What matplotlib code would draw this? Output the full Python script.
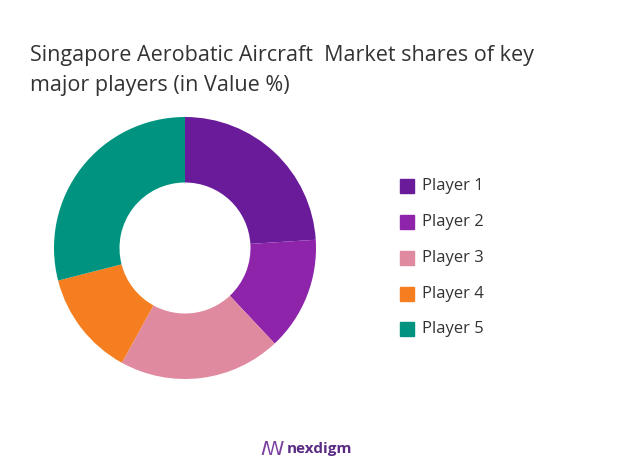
import matplotlib
matplotlib.use("Agg")
import matplotlib.pyplot as plt
from matplotlib.patches import Rectangle

labels = ["Player 1", "Player 2", "Player 3", "Player 4", "Player 5"]
values = [24, 14, 20, 13, 29]
colors = ["#6A1B9A", "#8E24AA", "#E08AA0", "#F57F20", "#00937F"]

fig = plt.figure(figsize=(6.2, 4.65), dpi=100)
fig.patch.set_facecolor("white")
fig.text(30/620, 1-55/465, "Singapore Aerobatic Aircraft  Market shares of key",
         fontsize=15.5, color="#333333", va="center", family="Open Sans")
fig.text(30/620, 1-85/465, "major players (in Value %)",
         fontsize=15.5, color="#333333", va="center", family="Open Sans")

ax = fig.add_axes([(185-131)/620, (465-248-131)/465, 262/620, 262/465])
ax.pie(values, colors=colors, startangle=90, counterclock=False,
       wedgeprops=dict(width=0.5, edgecolor="none"))
ax.set_xlim(-1, 1)
ax.set_ylim(-1, 1)
ax.set_aspect("equal")
ax.axis("off")

ys = [186, 222, 258, 294, 329]
for lab, c, y in zip(labels, colors, ys):
    fig.patches.append(Rectangle((400/620, 1-(y+7)/465), 14/620, 14/465,
                                 transform=fig.transFigure, color=c))
    fig.text(422/620, 1-y/465, lab, fontsize=12, color="#333333",
             va="center", family="Open Sans")

fig.text(272/620, 1-449/465, "ꟿ", fontsize=14, color="#7B3FA0", va="center", ha="center")
fig.text(320/620, 1-449/465, "nexdigm", fontsize=11, color="#5B2C83",
         va="center", ha="center", weight="bold", family="Open Sans")
fig.savefig("out.png", dpi=100)
